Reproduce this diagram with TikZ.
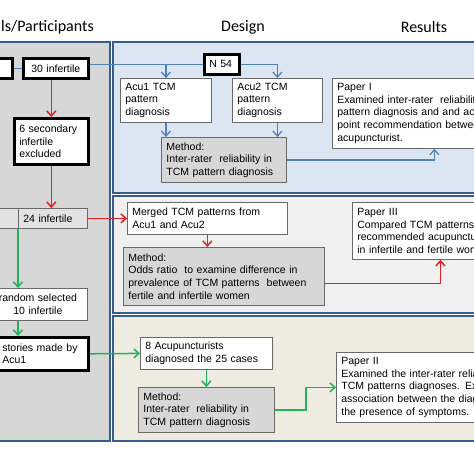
\documentclass[tikz,border=0pt]{standalone}
\usepackage{fontspec}
\setmainfont{Liberation Sans}
\newfontfamily\headfont{Carlito}
\usetikzlibrary{arrows.meta}
\definecolor{PanelEdge}{RGB}{56,93,138}
\definecolor{PanelGrey}{RGB}{215,215,215}
\definecolor{PanelBlue}{RGB}{220,230,242}
\definecolor{PanelLight}{RGB}{240,240,240}
\definecolor{PanelTan}{RGB}{238,236,225}
\definecolor{CellGrey}{RGB}{226,226,226}
\definecolor{LineBlue}{RGB}{79,129,189}
\definecolor{LineRed}{RGB}{230,30,38}
\definecolor{LineGreen}{RGB}{36,176,90}
\definecolor{BoxEdge}{RGB}{105,105,105}

\begin{document}
\begin{tikzpicture}[x=1pt,y=-1pt]
\tikzset{
  pn/.style={draw=PanelEdge, line width=1.6pt},
  bx/.style={draw=BoxEdge, line width=0.8pt, fill=white, anchor=north west,
    inner xsep=5pt, inner ysep=2pt, align=left,
    font=\fontsize{10.5}{12.6}\selectfont},
  tk/.style={bx, draw=black, line width=2.6pt},
  mt/.style={bx, fill=PanelGrey},
  hd/.style={font=\headfont\fontsize{16}{19}\selectfont, inner sep=0pt},
  ar/.style={-{Straight Barb[length=5pt,width=9pt]}},
  bl/.style={draw=LineBlue, line width=1.3pt},
  rd/.style={draw=LineRed, line width=1.5pt, ar},
  gr/.style={draw=LineGreen, line width=1.5pt, ar}
}
\useasboundingbox (0,0) rectangle (474,474);
\fill[white] (0,0) rectangle (474,474);

% panels
\draw[pn, fill=PanelGrey] (-10,42) rectangle (110,441);
\draw[pn, fill=PanelBlue] (113,42) rectangle (480,193);
\draw[pn, fill=PanelLight] (113,196) rectangle (480,313);
\draw[pn, fill=PanelTan] (113,316) rectangle (480,441);

\node[hd, anchor=west] (tpart) at (1,27) {ls/Participants};
\node[hd] (tdesign) at (243,27) {Design};
\node[hd] (tres) at (424,27) {Results};

% participants
\node[tk, minimum height=20pt, text width=21pt] (lcut) at (-20,57) {};
\node[tk, minimum height=20pt, text width=55pt, align=center] (n30) at (22,57) {30 infertile};
\node[tk, minimum height=46pt, text width=64pt] (excl) at (13,117) {6 secondary\\infertile\\excluded};
\node[bx, fill=CellGrey, minimum height=20pt, text width=28pt] (lcut2) at (-20,208) {};
\node[bx, fill=CellGrey, minimum height=20pt, text width=59pt] (n24) at (18,208) {24 infertile};
\node[bx, minimum height=32pt, text width=89pt, align=center] (rand) at (-12,288) {random selected\\10 infertile};
\node[tk, minimum height=33pt, text width=81pt] (stories) at (-4,336) {stories made by\\Acu1};

% design
\node[tk, minimum height=20pt, text width=25pt] (n54) at (203,53) {N 54};
\node[bx, minimum height=44pt, text width=81pt] (acu1) at (120,78) {Acu1 TCM\\pattern\\diagnosis};
\node[bx, minimum height=44pt, text width=80pt] (acu2) at (232,78) {Acu2 TCM\\pattern\\diagnosis};
\node[mt, minimum height=45pt, text width=115pt] (meth1) at (161,137) {Method:\\Inter-rater\ \ reliability in\\TCM pattern diagnosis};
\node[bx, minimum height=32pt, text width=150pt] (merged) at (127,202) {Merged TCM patterns from\\Acu1 and Acu2};
\node[mt, minimum height=58pt, text width=191pt] (meth2) at (123,247) {Method:\\Odds ratio\ \ to examine difference in\\prevalence of TCM patterns\ \ between\\fertile and infertile women};
\node[bx, minimum height=32pt, text width=122pt] (acup8) at (140,337) {8 Acupuncturists\\diagnosed the 25 cases};
\node[mt, minimum height=45pt, text width=126pt] (meth3) at (138,387) {Method:\\Inter-rater\ \ reliability in\\TCM pattern diagnosis};

% results
\node[bx, minimum height=70pt, text width=194pt] (paper1) at (332,78) {Paper I\\Examined inter-rater\ \ reliability\\pattern diagnosis and and acupuncture\\point recommendation between\\acupuncturist.};
\node[bx, minimum height=57pt, text width=166pt] (paper3) at (352,202) {Paper III\\Compared TCM patterns\\recommended acupuncture\\in infertile and fertile women};
\node[bx, minimum height=70pt, text width=210pt] (paper2) at (336,352) {Paper II\\Examined the inter-rater reliability\\TCM patterns diagnoses. Examined\\association between the diagnoses\\the presence of symptoms.};

% connectors
\draw[bl] (lcut) -- (n30);
\draw[bl] (n30.east |- n54.west) -- (n54.west);
\draw[bl, ar] (acu1.north |- n54.west) -- (acu1.north);
\draw[bl, ar] (n54.east) -| (acu2.north);
\draw[bl, ar] (acu1.south) -- (acu1.south |- meth1.north);
\draw[bl, ar] (acu2.south) -- (acu2.south |- meth1.north);
\draw[bl, ar] (meth1.east) -| (paper1.south);

\draw[rd] (excl.north |- n30.south) -- (excl.north);
\draw[rd] (excl.south) -- (excl.south |- n24.north);
\draw[rd] (n24.east) -- (merged.west);
\draw[rd] (merged.south) -- (merged.south |- meth2.north);
\draw[rd] ([yshift=-7pt]meth2.east) -| (paper3.south);

\draw[gr] (n24.south west) -- (n24.south west |- rand.north);
\draw[gr] (n24.south west |- rand.south) -- (n24.south west |- stories.north);
\draw[gr] (stories.east) -- (acup8.west);
\draw[gr] (acup8.south) -- (acup8.south |- meth3.north);
\draw[gr] (meth3.east) -- ++(31,0) |- (paper2.west);
\end{tikzpicture}
\end{document}
